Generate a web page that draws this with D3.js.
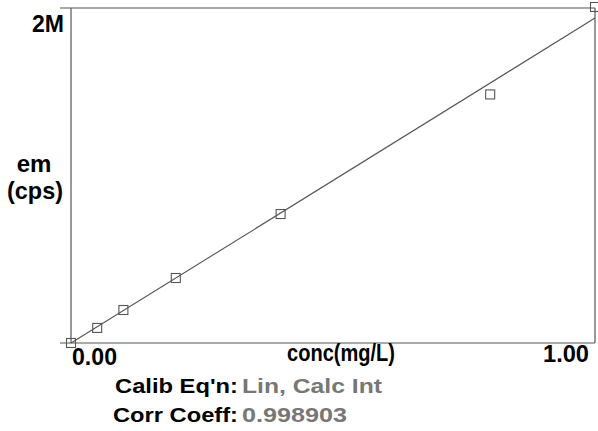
<!DOCTYPE html>
<html>
<head>
<meta charset="utf-8">
<script src="https://cdn.jsdelivr.net/npm/d3@7"></script>
<style>
  html, body { margin: 0; padding: 0; background: #fff; }
  svg { display: block; }
  text { font-family: "Liberation Sans", Arial, sans-serif; font-weight: bold; }
</style>
</head>
<body>
<svg id="chart" width="598" height="431"></svg>
<script>
// Calibration standards: concentration (mg/L) and emission (cps)
const concentrations = [0.0, 0.05, 0.10, 0.20, 0.40, 0.80, 1.00];
const emissions = [0, 90000, 197000, 388000, 770000, 1484000, 2006000];

// Linear calibration fit (calculated intercept)
const fitSlope = 1940000;
const fitIntercept = 0;

const xDomain = [0, 1.0];
const yDomain = [0, 2000000];
const xTickLabels = ["0.00", "1.00"];
const yTickLabels = ["2M"];

const calibEqLabel = "Calib Eq'n:";
const calibEqValue = "Lin, Calc Int";
const corrLabel = "Corr Coeff:";
const corrValue = "0.998903";

const svg = d3.select("#chart");
const plotLeft = 71, plotRight = 595, plotTop = 8, plotBottom = 343;

const x = d3.scaleLinear().domain(xDomain).range([plotLeft, plotRight]);
const y = d3.scaleLinear().domain(yDomain).range([plotBottom, plotTop]);

const axisColor = "#555";

// Frame: top and right borders, axes
const frame = svg.append("g").attr("stroke", axisColor).attr("stroke-width", 1.2).attr("fill", "none");
frame.append("line").attr("x1", 60).attr("x2", plotRight).attr("y1", plotTop).attr("y2", plotTop);
frame.append("line").attr("x1", plotRight).attr("x2", plotRight).attr("y1", plotTop).attr("y2", plotBottom);
frame.append("line").attr("x1", 60).attr("x2", plotRight).attr("y1", plotBottom).attr("y2", plotBottom);
frame.append("line").attr("x1", plotLeft).attr("x2", plotLeft).attr("y1", plotTop).attr("y2", plotBottom);

// Fitted calibration line
const fitLine = d3.line().x(d => x(d)).y(d => y(fitSlope * d + fitIntercept));
svg.append("path")
  .datum(xDomain)
  .attr("d", fitLine)
  .attr("fill", "none")
  .attr("stroke", "#555")
  .attr("stroke-width", 1.1);

// Standard points as open squares
const pts = concentrations.map((c, i) => ({ c, e: emissions[i] }));
svg.append("g").selectAll("rect")
  .data(pts)
  .join("rect")
  .attr("x", d => x(d.c) - 4.5)
  .attr("y", d => y(d.e) - 4.5)
  .attr("width", 9)
  .attr("height", 9)
  .attr("fill", "none")
  .attr("stroke", "#555")
  .attr("stroke-width", 1.1);

// Axis labels
svg.append("text").text(yTickLabels[0])
  .attr("x", 64).attr("y", 32).attr("text-anchor", "end")
  .attr("font-size", 24).attr("textLength", 32).attr("lengthAdjust", "spacingAndGlyphs");

svg.append("text").text("em")
  .attr("x", 34).attr("y", 172).attr("text-anchor", "middle")
  .attr("font-size", 24);
svg.append("text").text("(cps)")
  .attr("x", 35).attr("y", 199).attr("text-anchor", "middle")
  .attr("font-size", 24).attr("textLength", 56).attr("lengthAdjust", "spacingAndGlyphs");

svg.append("text").text(xTickLabels[0])
  .attr("x", 72).attr("y", 365)
  .attr("font-size", 24).attr("textLength", 45).attr("lengthAdjust", "spacingAndGlyphs");
svg.append("text").text(xTickLabels[1])
  .attr("x", 589).attr("y", 362).attr("text-anchor", "end")
  .attr("font-size", 24).attr("textLength", 46).attr("lengthAdjust", "spacingAndGlyphs");

svg.append("text").text("conc(mg/L)")
  .attr("x", 287).attr("y", 361)
  .attr("font-size", 24).attr("textLength", 108).attr("lengthAdjust", "spacingAndGlyphs");

// Calibration summary
svg.append("text").text(calibEqLabel)
  .attr("x", 115).attr("y", 393).attr("fill", "#000")
  .attr("font-size", 21).attr("textLength", 123).attr("lengthAdjust", "spacingAndGlyphs");
svg.append("text").text(calibEqValue)
  .attr("x", 242).attr("y", 393).attr("fill", "#777")
  .attr("font-size", 21).attr("textLength", 140).attr("lengthAdjust", "spacingAndGlyphs");

svg.append("text").text(corrLabel)
  .attr("x", 113).attr("y", 422).attr("fill", "#000")
  .attr("font-size", 21).attr("textLength", 125).attr("lengthAdjust", "spacingAndGlyphs");
svg.append("text").text(corrValue)
  .attr("x", 242).attr("y", 422).attr("fill", "#777")
  .attr("font-size", 21).attr("textLength", 105).attr("lengthAdjust", "spacingAndGlyphs");
</script>
</body>
</html>
